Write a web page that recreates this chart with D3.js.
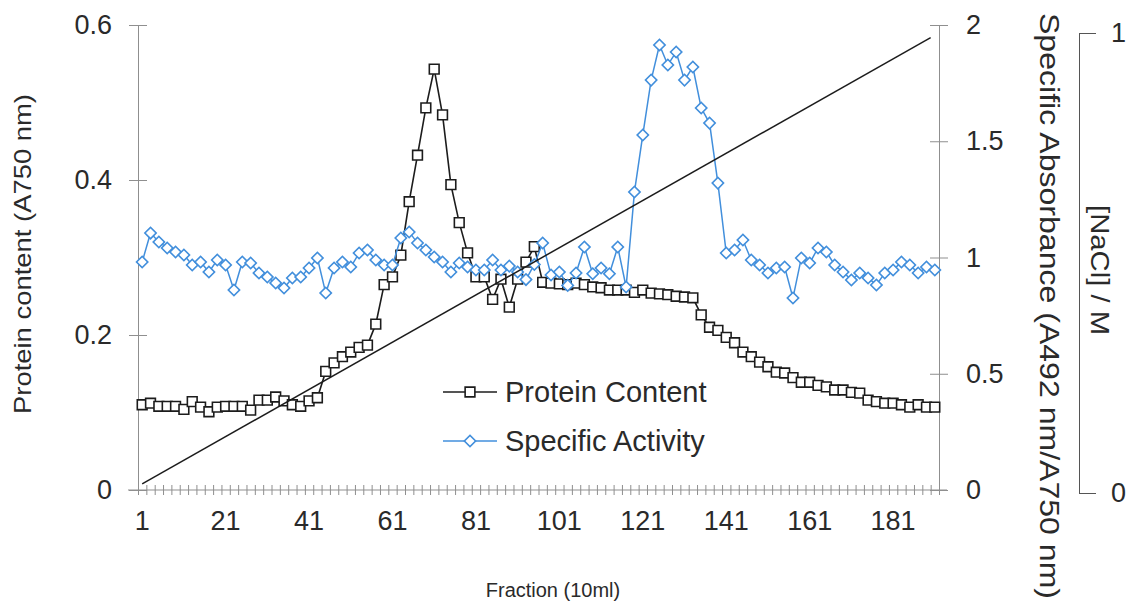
<!DOCTYPE html>
<html>
<head>
<meta charset="utf-8">
<script src="https://cdn.jsdelivr.net/npm/d3@7"></script>
<style>
  html, body { margin: 0; padding: 0; background: #ffffff; }
  svg { display: block; font-family: "Liberation Sans", Arial, sans-serif; }
</style>
</head>
<body>
<svg id="chart" width="1136" height="605"></svg>
<script>
// Fractions collected (every second tube, 10 ml each)
const fractions = [1,3,5,7,9,11,13,15,17,19,21,23,25,27,29,31,33,35,37,39,
  41,43,45,47,49,51,53,55,57,59,61,63,65,67,69,71,73,75,77,79,
  81,83,85,87,89,91,93,95,97,99,101,103,105,107,109,111,113,115,117,119,
  121,123,125,127,129,131,133,135,137,139,141,143,145,147,149,151,153,155,157,159,
  161,163,165,167,169,171,173,175,177,179,181,183,185,187,189,191];

const fractionLabels = [1,21,41,61,81,101,121,141,161,181];

// Protein content, A750 nm (left axis)
const proteinContent = [0.110,0.112,0.108,0.108,0.108,0.104,0.114,0.107,0.101,0.107,
  0.108,0.108,0.108,0.103,0.116,0.116,0.120,0.115,0.110,0.108,
  0.115,0.119,0.153,0.164,0.172,0.178,0.184,0.187,0.214,0.265,
  0.275,0.303,0.372,0.432,0.493,0.543,0.484,0.394,0.345,0.306,
  0.275,0.275,0.246,0.272,0.236,0.272,0.294,0.314,0.268,0.267,
  0.266,0.265,0.267,0.265,0.262,0.261,0.258,0.258,0.258,0.255,
  0.258,0.254,0.253,0.252,0.250,0.249,0.248,0.226,0.210,0.206,
  0.197,0.190,0.178,0.172,0.165,0.159,0.152,0.151,0.145,0.139,
  0.139,0.135,0.133,0.129,0.129,0.126,0.125,0.116,0.114,0.112,
  0.112,0.110,0.107,0.110,0.107,0.107];

// Specific absorbance, A492/A750 (right axis)
const specificActivity = [0.981,1.105,1.067,1.041,1.024,1.011,0.968,0.981,0.938,0.989,
  0.968,0.860,0.981,0.976,0.933,0.916,0.890,0.869,0.912,0.916,
  0.955,0.998,0.847,0.955,0.981,0.959,1.019,1.032,0.989,0.968,
  0.968,1.084,1.110,1.062,1.032,1.002,0.981,0.938,0.976,0.959,
  0.946,0.946,0.989,0.946,0.963,0.938,0.905,0.970,1.062,0.925,
  0.938,0.880,0.933,1.045,0.930,0.955,0.930,1.045,0.873,1.282,
  1.527,1.763,1.914,1.828,1.884,1.763,1.819,1.643,1.578,1.320,
  1.019,1.032,1.075,0.989,0.968,0.933,0.955,0.959,0.826,0.998,
  0.976,1.041,1.024,0.968,0.938,0.903,0.933,0.912,0.882,0.933,
  0.946,0.981,0.968,0.933,0.959,0.946];

// Linear NaCl gradient (third axis)
const naclFractions = [1, 190];
const naclMolarity = [0.02, 0.99];

const leftTicks = [0, 0.2, 0.4, 0.6];
const rightTicks = [0, 0.5, 1, 1.5, 2];
const naclTicks = [0, 1];

const svg = d3.select("#chart");
const L = 138, R = 939, T = 25, B = 490;
const axisGrey = "#8f8f8f";
const textCol = "#2a2a2a";
const blue = "#428fdc";
const ink = "#1c1c1c";

svg.append("rect").attr("width", 1136).attr("height", 605).attr("fill", "#ffffff");

const x = d3.scaleBand().domain(fractions).range([L, R]);
const cx = f => x(f) + x.bandwidth() / 2;
const xFrac = d3.scaleLinear()
  .domain([fractions[0], fractions[fractions.length - 1]])
  .range([cx(fractions[0]), cx(fractions[fractions.length - 1])]);
const yL = d3.scaleLinear().domain([0, 0.6]).range([B, T]);
const yR = d3.scaleLinear().domain([0, 2]).range([B, T]);
const yN = d3.scaleLinear().domain([0, 1]).range([493, 33]);

// x axis: tick marks on category boundaries
const xEdges = d3.scaleLinear().domain([0, fractions.length]).range([L, R]);
const gxTicks = svg.append("g").attr("transform", `translate(0,${B})`)
  .call(d3.axisBottom(xEdges).tickValues(d3.range(0, fractions.length + 1))
    .tickFormat("").tickSizeOuter(0).tickSizeInner(5));
gxTicks.select(".domain").attr("stroke", axisGrey).attr("d", `M${L - 10},0H${R + 8}`);
gxTicks.selectAll(".tick line").attr("stroke", axisGrey).attr("y1", -5).attr("y2", 5);

// x axis labels
const gxLab = svg.append("g").attr("transform", `translate(0,${B})`)
  .call(d3.axisBottom(x).tickValues(fractionLabels).tickSize(0).tickPadding(21));
gxLab.select(".domain").remove();
gxLab.selectAll("text").attr("font-size", 27).attr("fill", textCol)
  .attr("font-family", "Liberation Sans, Arial, sans-serif");

// left axis
const gl = svg.append("g").attr("transform", `translate(${L},0)`)
  .call(d3.axisLeft(yL).tickValues(leftTicks).tickSizeOuter(0).tickSizeInner(9).tickPadding(17)
    .tickFormat(d => d === 0 ? "0" : d3.format(".1f")(d)));
gl.select(".domain").attr("stroke", axisGrey);
gl.selectAll(".tick line").attr("stroke", axisGrey).attr("x1", -9).attr("x2", 9);
gl.selectAll("text").attr("font-size", 27).attr("fill", textCol)
  .attr("font-family", "Liberation Sans, Arial, sans-serif");

// right axis
const gr = svg.append("g").attr("transform", `translate(${R},0)`)
  .call(d3.axisRight(yR).tickValues(rightTicks).tickSizeOuter(0).tickSizeInner(9).tickPadding(18)
    .tickFormat(d => String(d)));
gr.select(".domain").attr("stroke", axisGrey);
gr.selectAll(".tick line").attr("stroke", axisGrey).attr("x1", -9).attr("x2", 9);
gr.selectAll("text").attr("font-size", 27).attr("fill", textCol)
  .attr("font-family", "Liberation Sans, Arial, sans-serif");

// NaCl axis
const gn = svg.append("g").attr("transform", "translate(1079,0)")
  .call(d3.axisRight(yN).tickValues(naclTicks).tickSizeOuter(0).tickSizeInner(17).tickPadding(15)
    .tickFormat(d => String(d)));
gn.select(".domain").attr("stroke", "#555");
gn.selectAll(".tick line").attr("stroke", "#555");
gn.selectAll("text").attr("font-size", 27).attr("fill", textCol)
  .attr("font-family", "Liberation Sans, Arial, sans-serif");

// axis titles
svg.append("text").attr("transform", "translate(31,254) rotate(-90)")
  .attr("text-anchor", "middle").attr("font-size", 24).attr("fill", textCol)
  .attr("textLength", 320).attr("lengthAdjust", "spacingAndGlyphs")
  .text("Protein content (A750 nm)");
svg.append("text").attr("transform", "translate(1040,306) rotate(90)")
  .attr("text-anchor", "middle").attr("font-size", 27).attr("fill", textCol)
  .attr("textLength", 586).attr("lengthAdjust", "spacingAndGlyphs")
  .text("Specific Absorbance (A492 nm/A750 nm)");
svg.append("text").attr("transform", "translate(1091,270) rotate(90)")
  .attr("text-anchor", "middle").attr("font-size", 26).attr("fill", textCol)
  .attr("textLength", 130).attr("lengthAdjust", "spacingAndGlyphs")
  .text("[NaCl] / M");
svg.append("text").attr("x", 553).attr("y", 597)
  .attr("text-anchor", "middle").attr("font-size", 20).attr("fill", textCol)
  .text("Fraction (10ml)");

const squareSym = d3.symbol().type(d3.symbolSquare).size(95);
const diamondSym = d3.symbol().type(d3.symbolSquare).size(64);

// protein series
const proteinPts = fractions.map((f, i) => [cx(f), yL(proteinContent[i])]);
svg.append("path").attr("d", d3.line()(proteinPts))
  .attr("fill", "none").attr("stroke", ink).attr("stroke-width", 1.6);
svg.append("g").selectAll("path").data(proteinPts).join("path")
  .attr("d", squareSym).attr("transform", d => `translate(${d[0]},${d[1]})`)
  .attr("fill", "#fff").attr("stroke", ink).attr("stroke-width", 1.6);

// specific activity series
const actPts = fractions.map((f, i) => [cx(f), yR(specificActivity[i])]);
svg.append("path").attr("d", d3.line()(actPts))
  .attr("fill", "none").attr("stroke", blue).attr("stroke-width", 1.5);
svg.append("g").selectAll("path").data(actPts).join("path")
  .attr("d", diamondSym).attr("transform", d => `translate(${d[0]},${d[1]}) rotate(45)`)
  .attr("fill", "#fff").attr("stroke", blue).attr("stroke-width", 1.6);

// NaCl gradient line
svg.append("path")
  .attr("d", d3.line()(naclFractions.map((f, i) => [xFrac(f), yN(naclMolarity[i])])))
  .attr("fill", "none").attr("stroke", ink).attr("stroke-width", 1.5);

// legend
const legend = svg.append("g");
const legendItems = [
  { label: "Protein Content", y: 392, color: ink, sym: squareSym, rot: 0 },
  { label: "Specific Activity", y: 441, color: blue, sym: diamondSym, rot: 45 }
];
legendItems.forEach(it => {
  legend.append("line").attr("x1", 443).attr("x2", 497).attr("y1", it.y).attr("y2", it.y)
    .attr("stroke", it.color).attr("stroke-width", 1.6);
  legend.append("path").attr("d", it.sym)
    .attr("transform", `translate(470,${it.y}) rotate(${it.rot})`)
    .attr("fill", "#fff").attr("stroke", it.color).attr("stroke-width", 1.6);
  legend.append("text").attr("x", 505).attr("y", it.y + 10).attr("font-size", 29)
    .attr("fill", textCol).text(it.label);
});
</script>
</body>
</html>
